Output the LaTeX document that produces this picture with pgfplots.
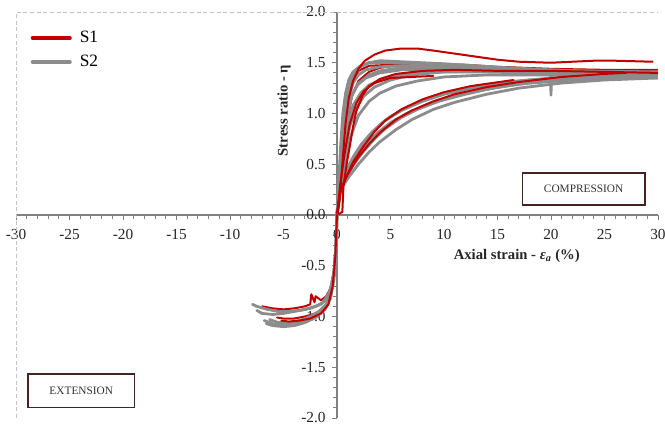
\documentclass[border=0pt]{standalone}
\usepackage{fontspec}
\setmainfont{Liberation Serif}
\usepackage{pgfplots}
\pgfplotsset{compat=1.18}
\definecolor{sone}{RGB}{192,0,0}
\definecolor{stwo}{RGB}{140,140,140}
\definecolor{axgray}{RGB}{128,128,128}
\definecolor{boxbrown}{RGB}{70,35,35}
\definecolor{framegray}{RGB}{195,195,195}
\begin{document}
\begin{tikzpicture}
\path[use as bounding box] (-12pt,-7.5pt) rectangle (486.75pt,313.5pt);
\begin{axis}[
  at={(0,0)}, anchor=south west,
  scale only axis, width=481.5pt, height=304.5pt,
  xmin=-30, xmax=30, ymin=-2, ymax=2,
  axis lines=middle,
  axis line style={axgray, line width=0.8pt, -},
  xtick={-30,-25,-20,-15,-10,-5,0,5,10,15,20,25,30},
  ytick={-2,-1.5,-1,-0.5,0,0.5,1,1.5,2},
  minor x tick num=4, minor y tick num=4,
  hide obscured x ticks=false, hide obscured y ticks=false,
  tick align=outside,
  major tick length=3.5pt, minor tick length=3pt,
  tick style={axgray, line width=0.6pt},
  /pgf/number format/assume math mode=true,
  ticklabel style={font=\fontsize{11.5}{13}\selectfont, text=black!85},
  yticklabel style={/pgf/number format/fixed, /pgf/number format/fixed zerofill, /pgf/number format/precision=1, xshift=-1.5pt},
  xticklabel style={yshift=-3.5pt},
  legend style={draw=none, fill=none, at={(axis cs:-28.65,1.84)}, anchor=north west,
    font=\fontsize{13}{15}\selectfont, row sep=4pt, inner sep=0pt,
    nodes={inner xsep=6pt}},
  legend cell align=left,
  legend image code/.code={\draw[#1, line width=2.8pt] (0pt,0pt) -- (28pt,0pt);},
  every axis plot/.append style={line join=round, line cap=round},
]
\draw[framegray, densely dashed, line width=0.5pt] (rel axis cs:0,0) rectangle (rel axis cs:1,1);

\addlegendimage{sone}\addlegendentry{S1}
\addlegendimage{stwo}\addlegendentry{S2}

% ---------- S1 (red) compression, underneath ----------
\addplot[sone, line width=1.5pt, forget plot] coordinates {(0,0) (0.3,0.2) (0.6,0.55) (1,0.95) (1.4,1.17) (2,1.32) (3,1.41) (4,1.45) (6,1.48) (9,1.49) (12,1.48) (15,1.46) (20,1.44) (25,1.43) (30,1.43)};
\addplot[sone, line width=1.5pt, forget plot] coordinates {(0,0) (0.3,0.35) (0.7,0.8) (1,1.1) (1.4,1.3) (2,1.42) (3,1.47) (5,1.48) (8,1.47) (12,1.46) (16,1.45) (20,1.43)};

% ---------- S2 (gray) compression ----------
\addplot[stwo, line width=2.1pt, forget plot] coordinates {(0,0) (0.2,0.3) (0.4,0.6) (0.6,0.9) (0.8,1.1) (1.0,1.22) (1.3,1.32) (1.7,1.4) (2.2,1.46) (3,1.5) (4,1.52) (6,1.51) (8,1.5) (10,1.49) (13,1.47) (16,1.45) (20,1.43) (25,1.41) (30,1.39)};
\addplot[stwo, line width=2.1pt, forget plot] coordinates {(0,0) (0.3,0.35) (0.5,0.65) (0.8,0.95) (1.1,1.15) (1.5,1.3) (2,1.38) (2.7,1.43) (4,1.46) (6,1.47) (9,1.47) (12,1.46) (16,1.44) (20,1.42) (25,1.4) (30,1.38)};
\addplot[stwo, line width=2.1pt, forget plot] coordinates {(0,0) (0.15,0.3) (0.35,0.7) (0.55,1.0) (0.8,1.2) (1.1,1.33) (1.5,1.41) (2.2,1.47) (3,1.5) (5,1.5) (8,1.49) (12,1.47) (17,1.44) (22,1.42) (30,1.41)};
\addplot[stwo, line width=2.1pt, forget plot] coordinates {(0,0) (0.3,0.3) (0.6,0.7) (1,1.0) (1.4,1.18) (2,1.3) (3,1.38) (4,1.42) (6,1.45) (9,1.46) (12,1.45) (16,1.43) (20,1.4) (25,1.37) (30,1.35)};
\addplot[stwo, line width=2.1pt, forget plot] coordinates {(0,0) (0.3,0.3) (0.7,0.6) (1.2,0.88) (1.8,1.05) (2.5,1.17) (3.5,1.26) (5,1.33) (7,1.38) (10,1.41) (14,1.42) (18,1.41) (19.95,1.4) (20,1.18) (20.05,1.39) (25,1.38) (30,1.36)};
\addplot[stwo, line width=2.1pt, forget plot] coordinates {(0,0) (0.3,0.32) (0.6,0.62) (1,0.9) (1.5,1.08) (2.2,1.2) (3,1.28) (4.5,1.35) (6.5,1.39) (9,1.41) (13,1.41) (18,1.4) (24,1.38) (30,1.37)};
\addplot[stwo, line width=2.1pt, forget plot] coordinates {(0,0) (0.3,0.34) (0.6,0.68) (0.9,0.97) (1.3,1.16) (1.9,1.28) (2.7,1.35) (4,1.4) (6,1.43) (9,1.44) (13,1.43) (18,1.41) (24,1.39) (30,1.38)};
\addplot[stwo, line width=2.1pt, forget plot] coordinates {(0,0) (0.4,0.3) (0.8,0.55) (1.3,0.78) (2,0.98) (3,1.12) (4,1.2) (5.5,1.27) (7.5,1.32) (10,1.36) (14,1.38) (20,1.38) (25,1.37) (30,1.36)};
\addplot[stwo, line width=2.1pt, forget plot] coordinates {(0,0) (0.3,0.25) (0.7,0.38) (1.2,0.5) (2,0.64) (3,0.78) (4,0.89) (5,0.97) (6.5,1.06) (8,1.13) (10,1.2) (12.5,1.26) (15,1.3) (18,1.33) (22,1.35) (26,1.36) (30,1.37)};
\addplot[stwo, line width=2.1pt, forget plot] coordinates {(0,0) (0.3,0.24) (0.8,0.36) (1.5,0.49) (2.5,0.63) (3.5,0.75) (4.5,0.85) (6,0.96) (7.5,1.04) (9.5,1.12) (12,1.19) (15,1.26) (18,1.3) (22,1.33) (26,1.35) (30,1.36)};
\addplot[stwo, line width=2.1pt, forget plot] coordinates {(0,0) (0.3,0.24) (1,0.36) (2,0.5) (3,0.62) (4,0.72) (5.5,0.84) (7,0.94) (9,1.04) (11,1.11) (14,1.19) (17,1.25) (21,1.3) (25,1.33) (30,1.35)};
\addplot[stwo, line width=2.1pt, forget plot] coordinates {(0,0) (0.3,0.26) (0.8,0.42) (1.5,0.57) (2.3,0.7) (3.3,0.82) (4.5,0.93) (6,1.03) (8,1.12) (10,1.19) (13,1.26) (16,1.31) (20,1.35) (25,1.38) (30,1.4)};
\addplot[stwo, line width=2.1pt, forget plot] coordinates {(0,0) (0.3,0.25) (0.9,0.4) (1.7,0.55) (2.7,0.69) (3.8,0.81) (5,0.91) (6.5,1.0) (8.5,1.09) (10.5,1.16) (13.5,1.23) (17,1.29) (21,1.33) (25,1.35) (30,1.37)};

% ---------- S1 (red) compression, on top ----------
\addplot[sone, line width=1.5pt, forget plot] coordinates {(0,0) (0.2,0.1) (0.5,0.5) (0.8,0.9) (1.1,1.15) (1.5,1.32) (2,1.44) (2.6,1.52) (3.5,1.58) (4.5,1.62) (6,1.64) (7.5,1.64) (9,1.62) (11,1.59) (13,1.56) (15,1.53) (17,1.51) (20,1.5) (22,1.51) (24,1.52) (26,1.52) (29.5,1.51)};
\addplot[sone, line width=1.5pt, forget plot] coordinates {(0,0) (0.5,0.03) (0.6,0.28) (0.9,0.5) (1.2,0.68) (1.5,0.87) (1.8,1.02) (2.4,1.18) (3,1.27) (4,1.34) (5.5,1.39) (8,1.42) (11,1.43) (15,1.42) (20,1.42) (25,1.41) (30,1.4)};
\addplot[sone, line width=1.5pt, forget plot] coordinates {(0,0) (0.3,0.3) (0.7,0.6) (1.2,0.9) (1.8,1.1) (2.5,1.22) (3.5,1.3) (5,1.35) (7,1.36) (9,1.37)};
\addplot[sone, line width=1.5pt, forget plot] coordinates {(0,0) (0.3,0.22) (0.8,0.36) (1.5,0.52) (2.5,0.68) (3.5,0.82) (4.5,0.93) (6,1.04) (8,1.14) (10,1.21) (12.5,1.27) (14.5,1.3) (16.5,1.33)};
\addplot[sone, line width=1.5pt, forget plot] coordinates {(0,0) (0.3,0.24) (1,0.4) (2,0.57) (3,0.7) (4,0.81) (5.5,0.94) (7,1.03) (9,1.12) (11,1.19) (14,1.26) (17,1.31) (21,1.36) (25,1.39) (27,1.4)};

% ---------- extension ----------
\addplot[sone, line width=1.5pt, forget plot] coordinates {(0,0) (-0.1,-0.3) (-0.3,-0.55) (-0.6,-0.72) (-1,-0.8) (-1.5,-0.84) (-2.0,-0.8) (-2.1,-0.86) (-2.4,-0.78) (-2.5,-0.88) (-3,-0.9) (-4,-0.92) (-5,-0.93) (-6,-0.92) (-7,-0.9)};
\addplot[sone, line width=1.5pt, forget plot] coordinates {(0,0) (-0.1,-0.35) (-0.3,-0.62) (-0.7,-0.82) (-1.2,-0.92) (-2,-0.97) (-3,-1.0) (-4,-1.02) (-5,-1.02) (-5.6,-1.01)};
\addplot[stwo, line width=2.1pt, forget plot] coordinates {(0,0) (-0.1,-0.3) (-0.25,-0.55) (-0.5,-0.72) (-1,-0.83) (-1.5,-0.88) (-2.5,-0.92) (-3.5,-0.94) (-4.5,-0.95) (-5.5,-0.95) (-6.5,-0.93) (-7.5,-0.9) (-7.9,-0.88)};
\addplot[stwo, line width=2.1pt, forget plot] coordinates {(0,0) (-0.1,-0.35) (-0.3,-0.6) (-0.6,-0.78) (-1,-0.88) (-1.7,-0.95) (-2.5,-1.0) (-3.5,-1.04) (-4.5,-1.06) (-5.5,-1.06) (-6.3,-1.03)};
\addplot[stwo, line width=2.1pt, forget plot] coordinates {(0,0) (-0.1,-0.4) (-0.3,-0.65) (-0.6,-0.82) (-1.1,-0.93) (-2,-1.01) (-3,-1.06) (-4,-1.09) (-5,-1.1) (-6,-1.09) (-6.6,-1.07)};
\addplot[stwo, line width=2.1pt, forget plot] coordinates {(0,0) (-0.1,-0.3) (-0.3,-0.58) (-0.7,-0.76) (-1.3,-0.86) (-2,-0.9) (-3,-0.93) (-4,-0.95) (-5,-0.97) (-6,-0.98) (-7,-0.97) (-7.5,-0.94)};
\addplot[stwo, line width=2.1pt, forget plot] coordinates {(0,0) (-0.1,-0.33) (-0.3,-0.6) (-0.6,-0.79) (-1.1,-0.9) (-1.8,-0.97) (-2.8,-1.03) (-3.8,-1.06) (-4.8,-1.08) (-5.8,-1.08) (-6.8,-1.04)};
\addplot[sone, line width=1.5pt, forget plot] coordinates {(0,0) (-0.15,-0.4) (-0.4,-0.7) (-0.8,-0.88) (-1.5,-0.97) (-2.5,-1.02) (-3.5,-1.04) (-4.5,-1.05) (-5.2,-1.04)};

% ---------- labels and boxes ----------
\node[rotate=90, font=\bfseries\fontsize{11}{13}\selectfont, text=black!85] at (axis cs:-4.95,1.03) {Stress ratio - η};
\node[font=\bfseries\fontsize{11}{13}\selectfont, text=black!85] at (axis cs:16.8,-0.40) {Axial strain - \textit{ε}\textsubscript{\textit{a}} (\%)};
\node[draw=boxbrown, line width=1.1pt, fill=white, minimum width=92pt, minimum height=24pt, font=\fontsize{8.5}{10}\selectfont, text=black!80] at (axis cs:23.05,0.255) {COMPRESSION};
\node[draw=boxbrown, line width=1.1pt, fill=white, minimum width=80pt, minimum height=25pt, font=\fontsize{8.5}{10}\selectfont, text=black!80] at (axis cs:-23.9,-1.73) {EXTENSION};
\end{axis}
\end{tikzpicture}
\end{document}
